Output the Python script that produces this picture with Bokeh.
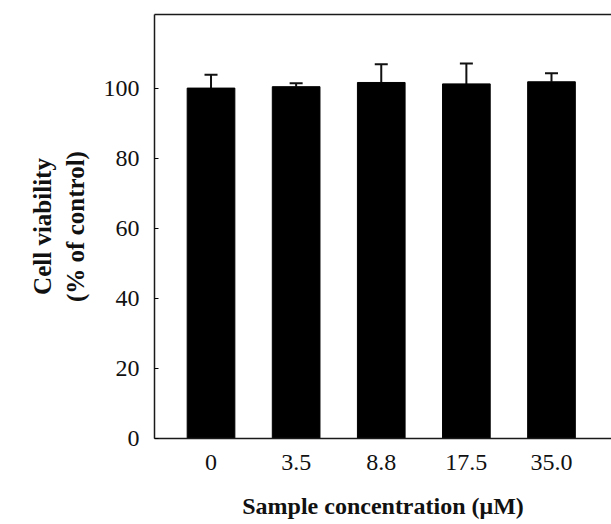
from bokeh.plotting import figure
from bokeh.models import ColumnDataSource, Whisker, TeeHead, LinearAxis, FixedTicker, Range1d
from bokeh.embed import file_html
from bokeh.resources import INLINE

categories = ["0", "3.5", "8.8", "17.5", "35.0"]
viability = [100.0, 100.4, 101.6, 101.2, 101.8]
error = [3.8, 1.0, 5.2, 5.8, 2.4]
y_ticks = [0, 20, 40, 60, 80, 100]

x = list(range(len(categories)))
upper = [v + e for v, e in zip(viability, error)]
src = ColumnDataSource(dict(x=x, top=viability, upper=upper))

FONT = "Liberation Serif"

p = figure(width=611, height=524, output_backend="svg", toolbar_location=None,
           x_range=Range1d(-0.664, 4.705), y_range=Range1d(0, 121),
           min_border_left=154, min_border_right=0, min_border_top=14,
           min_border_bottom=86)
p.outline_line_color = None
p.grid.visible = False
p.background_fill_color = "white"

p.vbar(x="x", top="top", bottom=0, width=0.56, source=src,
       fill_color="black", line_color="black")

w = Whisker(base="x", lower="top", upper="upper", source=src, dimension="height",
            line_color="#111111", line_width=2,
            upper_head=TeeHead(size=13, line_color="#111111", line_width=2),
            lower_head=None)
p.add_layout(w)

# x axis
xa = p.xaxis[0]
xa.ticker = FixedTicker(ticks=x)
xa.major_label_overrides = {i: c for i, c in zip(x, categories)}
xa.major_tick_in = 0
xa.major_tick_out = 0
xa.minor_tick_in = 0
xa.minor_tick_out = 0
xa.axis_line_color = "#1a1a1a"
xa.axis_line_width = 1.5
xa.major_label_text_font = FONT
xa.major_label_text_font_size = "24px"
xa.major_label_text_color = "#111111"
xa.major_label_standoff = 16
xa.axis_label = "Sample concentration (μM)"
xa.axis_label_text_font = FONT
xa.axis_label_text_font_style = "bold"
xa.axis_label_text_font_size = "24px"
xa.axis_label_text_color = "#111111"
xa.axis_label_standoff = 20

# y axis
ya = p.yaxis[0]
ya.ticker = FixedTicker(ticks=y_ticks)
ya.major_tick_in = 4
ya.major_tick_out = 0
ya.minor_tick_in = 0
ya.minor_tick_out = 0
ya.axis_line_color = "#1a1a1a"
ya.axis_line_width = 1.5
ya.major_label_text_font = FONT
ya.major_label_text_font_size = "24px"
ya.major_label_text_color = "#111111"
ya.major_label_standoff = 15
ya.axis_label = "Cell viability\n(% of control)"
ya.axis_label_text_font = FONT
ya.axis_label_text_font_style = "bold"
ya.axis_label_text_font_size = "25px"
ya.axis_label_text_color = "#111111"
ya.axis_label_standoff = 12

# top border line
top_axis = LinearAxis(ticker=FixedTicker(ticks=[]), major_tick_in=0, major_tick_out=0,
                      minor_tick_in=0, minor_tick_out=0,
                      axis_line_color="#1a1a1a", axis_line_width=1.5)
p.add_layout(top_axis, "above")

open("out.html", "w").write(file_html(p, INLINE))
